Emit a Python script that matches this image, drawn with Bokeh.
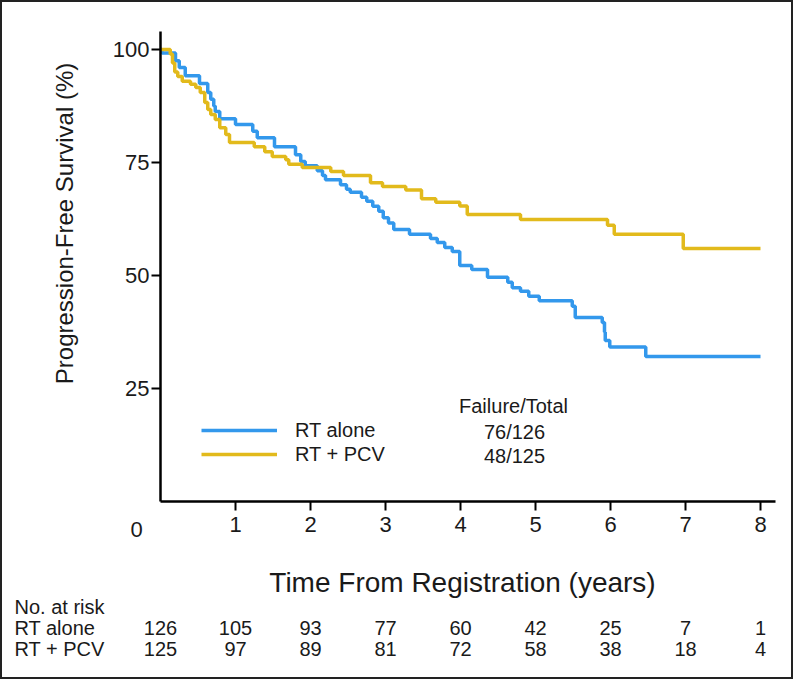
import numpy as np
from bokeh.plotting import figure
from bokeh.models import Range1d, FixedTicker, Legend, LegendItem
from bokeh.core.properties import value
from bokeh.embed import file_html
from bokeh.resources import INLINE

# ---------------- data ----------------
rt_time = [0, 0.02, 0.20, 0.25, 0.33, 0.52, 0.63, 0.67, 0.71, 0.73, 0.79, 1.00, 1.23, 1.29,
           1.52, 1.80, 1.87, 1.93, 2.09, 2.16, 2.20, 2.40, 2.48, 2.53, 2.68, 2.75, 2.83, 2.91,
           2.97, 3.04, 3.11, 3.32, 3.60, 3.69, 3.79, 3.89, 3.99, 4.15, 4.36, 4.63, 4.69, 4.80,
           4.91, 5.05, 5.49, 5.53, 5.89, 5.92, 5.93, 5.99, 6.47, 8.0]
rt_surv = [100, 99.2, 97.5, 96, 94.2, 92.5, 90.5, 89, 87.5, 86.3, 84.7, 83.4, 81.9, 80.5,
           78.5, 76.7, 75.2, 74.3, 73.2, 72.1, 71.2, 70.1, 69.1, 68.4, 67.3, 66.4, 65.3, 64.2,
           62.8, 61.6, 60.2, 59.1, 58.2, 57.3, 56.2, 55.3, 52.2, 51.3, 49.6, 48.5, 47.3, 46.5,
           45.4, 44.4, 43.2, 40.7, 39.6, 37.5, 35.6, 34.2, 32.1, 32.1]

pcv_time = [0, 0.13, 0.16, 0.19, 0.23, 0.29, 0.40, 0.47, 0.53, 0.59, 0.63, 0.67, 0.73, 0.79,
            0.87, 0.92, 1.25, 1.39, 1.49, 1.67, 1.71, 1.89, 2.27, 2.44, 2.80, 2.96, 3.27, 3.48,
            3.67, 3.99, 4.09, 4.80, 5.96, 6.05, 6.97, 8.0]
pcv_surv = [100, 99, 97, 95, 94, 93, 92.3, 91.6, 90.5, 88.3, 86.7, 85.6, 84.5, 82.7,
            81.2, 79.4, 78.5, 77.4, 76.3, 75.6, 74.6, 73.9, 73.0, 72.1, 70.5, 69.7, 68.9, 67.0,
            66.2, 65.4, 63.5, 62.4, 61.1, 59.1, 56.0, 56.0]

groups = ["RT alone", "RT + PCV"]
failures = [76, 48]
totals = [126, 125]

risk_years = [0, 1, 2, 3, 4, 5, 6, 7, 8]
risk_rt = [126, 105, 93, 77, 60, 42, 25, 7, 1]
risk_pcv = [125, 97, 89, 81, 72, 58, 38, 18, 4]

x_ticks = [1, 2, 3, 4, 5, 6, 7, 8]
y_ticks = [25, 50, 75, 100]

# ---------------- layout ----------------
W, H = 793, 679
ORIGIN = 8                 # page margin
X0 = 168 - ORIGIN          # canvas px of t = 0
PX_YEAR = 75.0
Y0 = 509 - ORIGIN          # canvas px (from top) of S = 0
PX_PCT = 4.52

def px_x(abs_x):
    return (abs_x - ORIGIN - X0) / PX_YEAR

def px_y(abs_y):
    return (Y0 - (abs_y - ORIGIN)) / PX_PCT

BLUE = "#3398EC"
YELLOW = "#E2BA1C"
INK = "#1a1a1a"
FONT = value("Liberation Sans")

p = figure(width=W, height=H, output_backend="svg", toolbar_location=None,
           x_range=Range1d(-X0 / PX_YEAR, (W - X0) / PX_YEAR),
           y_range=Range1d(-(H - Y0) / PX_PCT, Y0 / PX_PCT),
           min_border=0, min_border_left=0, min_border_right=0,
           min_border_top=0, min_border_bottom=0)
p.grid.visible = False
p.background_fill_color = "white"
p.border_fill_color = "white"
p.outline_line_color = "#222222"
p.outline_line_width = 3

# axes placed at the data origin
xa = p.xaxis[0]
xa.fixed_location = 0
xa.bounds = (0, 8.2)
xa.ticker = FixedTicker(ticks=x_ticks)
ya = p.yaxis[0]
ya.fixed_location = 0
ya.bounds = (0, 104)
ya.ticker = FixedTicker(ticks=y_ticks)
for ax in (xa, ya):
    ax.axis_line_color = "black"
    ax.axis_line_width = 2.5
    ax.major_tick_line_color = "black"
    ax.major_tick_line_width = 2
    ax.major_tick_in = 0
    ax.major_tick_out = 9
    ax.minor_tick_line_color = None
    ax.major_label_text_font = "Liberation Sans"
    ax.major_label_text_font_size = "22px"
    ax.major_label_text_color = INK
xa.major_label_standoff = 6
ya.major_label_standoff = 2

# curves
r_rt = p.step(rt_time, rt_surv, mode="after", line_color=BLUE, line_width=3.5)
r_pcv = p.step(pcv_time, pcv_surv, mode="after", line_color=YELLOW, line_width=3.5)

# origin label
p.text(x=[px_x(144)], y=[px_y(537)], text=["0"], text_align="center", text_baseline="middle",
       text_font=FONT, text_font_size=value("22px"), text_color=INK)

# axis titles
p.text(x=[px_x(470)], y=[px_y(590)], text=["Time From Registration (years)"],
       text_align="center", text_baseline="middle",
       text_font=FONT, text_font_size=value("28px"), text_color=INK)
p.text(x=[px_x(72)], y=[px_y(231)], text=["Progression-Free Survival (%)"], angle=np.pi / 2,
       text_align="center", text_baseline="middle",
       text_font=FONT, text_font_size=value("24px"), text_color=INK)

# legend
legend = Legend(items=[LegendItem(label=groups[0], renderers=[r_rt]),
                       LegendItem(label=groups[1], renderers=[r_pcv])],
                location=(209 - ORIGIN, H - (474 - ORIGIN)),
                border_line_color=None, background_fill_alpha=0,
                glyph_width=76, glyph_height=24, label_height=24, label_standoff=18,
                spacing=0, padding=0, margin=0,
                label_text_font="Liberation Sans", label_text_font_size="20px",
                label_text_color=INK)
p.add_layout(legend)

# failure / total column
p.text(x=[px_x(521)], y=[px_y(413)], text=["Failure/Total"], text_align="center",
       text_baseline="middle", text_font=FONT, text_font_size=value("20px"), text_color=INK)
p.text(x=[px_x(522)] * 2, y=[px_y(439), px_y(463)],
       text=[f"{f}/{t}" for f, t in zip(failures, totals)], text_align="center",
       text_baseline="middle", text_font=FONT, text_font_size=value("20px"), text_color=INK)

# number at risk table
p.text(x=[px_x(22)] * 3, y=[px_y(614), px_y(635), px_y(656)],
       text=["No. at risk"] + groups, text_align="left", text_baseline="middle",
       text_font=FONT, text_font_size=value("20px"), text_color=INK)
p.text(x=risk_years, y=[px_y(635)] * len(risk_years), text=[str(v) for v in risk_rt],
       text_align="center", text_baseline="middle",
       text_font=FONT, text_font_size=value("20px"), text_color=INK)
p.text(x=risk_years, y=[px_y(656)] * len(risk_years), text=[str(v) for v in risk_pcv],
       text_align="center", text_baseline="middle",
       text_font=FONT, text_font_size=value("20px"), text_color=INK)

open("out.html", "w").write(file_html(p, INLINE))
